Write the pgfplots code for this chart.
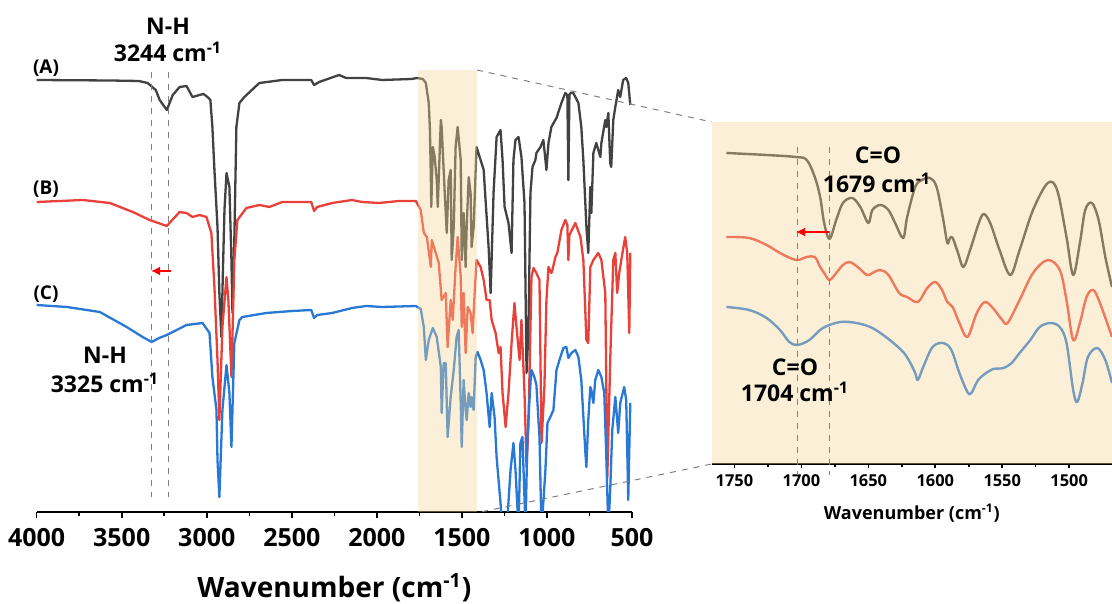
\documentclass[border=0pt]{standalone}
\usepackage{fontspec}
\setmainfont{Open Sans}
\usepackage{pgfplots}
\pgfplotsset{compat=1.18}
\usetikzlibrary{arrows.meta}

\definecolor{specA}{RGB}{66,66,66}
\definecolor{specB}{RGB}{234,64,58}
\definecolor{specC}{RGB}{40,120,214}
\definecolor{zoomfill}{RGB}{245,215,150}

\pgfplotsset{
  ftir/.style={
    scale only axis, anchor=south west,
    x dir=reverse,
    axis x line=bottom, axis y line=none,
    axis line style={-, line width=0.9pt, black},
    tick align=outside,
    tick style={line width=0.8pt, black},
    /pgf/number format/assume math mode=true,
    /pgf/number format/1000 sep={},
    every axis plot/.append style={line width=1.15pt, line join=round},
  }
}

\begin{document}
\begin{tikzpicture}
\path[use as bounding box] (0,0) rectangle (556pt,302pt);

% ---------------- full spectrum ----------------
\begin{axis}[ftir,
  at={(18.35pt,46.15pt)}, width=297.65pt, height=225.85pt,
  xmin=500, xmax=4000, ymin=-511.7, ymax=-60,
  xtick={500,1000,...,4000}, minor x tick num=1,
  major tick length=3.4pt, minor tick length=2pt,
  xticklabel style={font=\fontsize{12.5}{14}\selectfont\bfseries, yshift=-1.5pt},
  xlabel={Wavenumber (cm\textsuperscript{-1})},
  xlabel style={font=\fontsize{14}{16}\selectfont\bfseries,
    at={(axis description cs:0.5,0)}, anchor=center, yshift=-38pt},
]
% (A)
\addplot[specA] coordinates {
(4000,-80) (3570,-80.5) (3400,-81) (3348,-83) (3300,-90) (3277,-100) (3235,-110)
(3200,-95) (3160,-87) (3119,-86) (3084,-97) (3043,-95) (3019,-94) (2996,-97)
(2979,-100) (2967,-127) (2955,-170) (2937,-227) (2926,-293) (2914,-337) (2905,-270)
(2896,-210) (2884,-173) (2867,-187) (2855,-260) (2849,-313) (2838,-240) (2826,-127)
(2808,-103) (2779,-97) (2691,-83) (2556,-80) (2386,-80) (2369,-85) (2339,-82)
(2222,-75) (2181,-78) (2064,-78) (1970,-80) (1794,-79) (1765,-78) (1730,-79)
(1712,-83) (1695,-103) (1688,-130) (1683,-175) (1680,-207) (1671,-147) (1660,-157)
(1648,-180) (1642,-207) (1624,-120) (1619,-127) (1601,-193) (1589,-233) (1578,-180)
(1566,-170) (1560,-260) (1548,-227) (1537,-147) (1525,-127) (1507,-160) (1501,-260)
(1490,-213) (1478,-267) (1472,-227) (1460,-177) (1449,-193) (1443,-247) (1431,-227)
(1419,-170) (1414,-147) (1390,-160) (1372,-170) (1361,-200) (1343,-247) (1331,-293)
(1314,-193) (1296,-137) (1273,-130) (1261,-160) (1249,-207) (1226,-223) (1208,-253)
(1197,-160) (1185,-140) (1167,-137) (1150,-157) (1132,-203) (1120,-373) (1109,-333)
(1097,-193) (1085,-167) (1068,-160) (1062,-153) (1038,-147) (1021,-140) (1003,-170)
(991,-143) (974,-127) (944,-118) (915,-103) (892,-93) (880,-95) (874,-180) (868,-95)
(862,-93) (845,-93) (815,-103) (798,-127) (786,-160) (768,-227) (757,-253) (745,-187)
(739,-213) (727,-153) (710,-143) (686,-157) (680,-143) (657,-120) (651,-127)
(639,-113) (628,-163) (622,-167) (610,-120) (598,-107) (581,-90) (569,-97) (552,-80)
(534,-78) (522,-83) (510,-105)
};
% (B)
\addplot[specB] coordinates {
(4000,-202) (3729,-200) (3570,-203) (3435,-212) (3336,-220) (3235,-226) (3160,-212)
(3119,-213) (3084,-217) (3043,-215) (3002,-217) (2973,-233) (2955,-287) (2937,-360)
(2926,-420) (2908,-327) (2884,-277) (2873,-300) (2855,-377) (2838,-260) (2820,-220)
(2767,-208) (2691,-205) (2632,-207) (2556,-202) (2386,-202) (2369,-211) (2351,-207)
(2263,-203) (2146,-200) (2087,-202) (1988,-203) (1870,-201) (1771,-201) (1742,-210)
(1724,-233) (1706,-237) (1683,-267) (1677,-240) (1654,-253) (1636,-263) (1619,-300)
(1595,-293) (1584,-347) (1566,-300) (1554,-320) (1537,-267) (1525,-237) (1507,-277)
(1501,-327) (1490,-293) (1478,-353) (1466,-307) (1449,-313) (1437,-333) (1425,-293)
(1414,-260) (1390,-267) (1372,-280) (1355,-300) (1337,-300) (1325,-320) (1302,-333)
(1284,-353) (1273,-347) (1261,-393) (1243,-427) (1226,-393) (1208,-343) (1191,-303)
(1179,-327) (1161,-360) (1150,-320) (1132,-393) (1120,-467) (1109,-427) (1091,-277)
(1079,-268) (1062,-273) (1044,-280) (1032,-443) (1015,-387) (1003,-300) (991,-267)
(974,-273) (968,-270) (950,-257) (939,-253) (915,-230) (892,-220) (880,-225)
(874,-260) (868,-235) (862,-233) (833,-223) (803,-237) (786,-260) (768,-340)
(757,-343) (745,-267) (727,-260) (698,-253) (680,-260) (657,-293) (645,-477)
(628,-360) (610,-260) (598,-253) (587,-293) (575,-273) (563,-260) (540,-237)
(528,-253) (516,-333) (510,-253)
};
% (C)
\addplot[specC] coordinates {
(4000,-305) (3822,-307) (3629,-312) (3471,-327) (3377,-337) (3324,-342) (3280,-338)
(3235,-335) (3119,-325) (3025,-323) (2996,-330) (2984,-333) (2967,-377) (2943,-410)
(2937,-460) (2926,-497) (2908,-410) (2884,-365) (2867,-393) (2855,-447) (2838,-343)
(2808,-320) (2791,-317) (2650,-313) (2498,-311) (2386,-310) (2369,-318) (2351,-315)
(2263,-313) (2146,-308) (2064,-306) (1970,-307) (1771,-306) (1742,-309) (1724,-327)
(1712,-360) (1695,-340) (1671,-328) (1648,-337) (1624,-367) (1619,-413) (1607,-363)
(1595,-363) (1584,-437) (1566,-397) (1548,-370) (1531,-337) (1519,-330) (1507,-403)
(1501,-447) (1490,-380) (1478,-410) (1472,-420) (1460,-393) (1449,-407) (1443,-397)
(1431,-410) (1419,-357) (1408,-352) (1390,-360) (1372,-370) (1355,-393) (1337,-427)
(1325,-393) (1308,-417) (1296,-457) (1273,-503) (1261,-530) (1237,-530) (1214,-470)
(1197,-443) (1185,-470) (1167,-530) (1156,-443) (1144,-437) (1126,-530) (1115,-437)
(1097,-383) (1091,-370) (1074,-377) (1062,-385) (1044,-437) (1032,-530) (1009,-470)
(997,-423) (980,-417) (962,-410) (944,-370) (921,-357) (903,-348) (886,-347)
(874,-358) (856,-353) (833,-350) (815,-357) (798,-380) (774,-453) (768,-467)
(757,-420) (745,-387) (739,-390) (727,-403) (716,-380) (698,-370) (680,-377)
(663,-393) (651,-457) (639,-530) (628,-490) (616,-430) (598,-397) (581,-433)
(569,-403) (546,-387) (534,-400) (522,-500) (510,-403)
};
\fill[zoomfill, fill opacity=0.38] (axis cs:1760,-511.7) rectangle (axis cs:1410,-70);
\end{axis}

% ---------------- magnified C=O region ----------------
\begin{axis}[ftir,
  at={(355.85pt,70pt)}, width=200.15pt, height=171pt,
  xmin=1468, xmax=1767, ymin=-464, ymax=-122, clip=false,
  xtick={1500,1550,...,1750}, minor x tick num=1,
  major tick length=2pt, minor tick length=1.3pt,
  xticklabel style={font=\fontsize{8.2}{9}\selectfont\bfseries},
  xlabel={Wavenumber (cm\textsuperscript{-1})},
  xlabel style={font=\fontsize{9}{10}\selectfont\bfseries,
    at={(axis description cs:0.5,0)}, anchor=center, yshift=-24.5pt},
  every axis plot/.append style={smooth, tension=0.55, line width=1.2pt},
]
\addplot[specA] coordinates {
(1756,-153) (1726,-155) (1704,-157) (1696,-160) (1690,-177) (1686,-197) (1683,-223)
(1679,-239) (1674,-220) (1669,-203) (1662,-198) (1656,-207) (1650,-223) (1647,-210)
(1641,-205) (1635,-210) (1630,-223) (1624,-238) (1621,-217) (1615,-187) (1610,-180)
(1604,-178) (1599,-187) (1594,-220) (1591,-243) (1589,-238) (1587,-238) (1583,-253)
(1579,-267) (1574,-250) (1568,-225) (1564,-214) (1559,-223) (1552,-250) (1544,-275)
(1537,-250) (1527,-210) (1516,-183) (1509,-190) (1502,-237) (1497,-275) (1492,-243)
(1488,-210) (1483,-203) (1478,-220) (1473,-257) (1468,-287)
};
\addplot[specB] coordinates {
(1756,-237) (1739,-238) (1726,-245) (1716,-253) (1704,-260) (1696,-257) (1690,-257)
(1686,-267) (1683,-273) (1679,-280) (1674,-273) (1669,-265) (1664,-262) (1658,-267)
(1651,-275) (1647,-273) (1641,-270) (1635,-275) (1627,-293) (1621,-297) (1613,-302)
(1606,-288) (1600,-282) (1595,-290) (1591,-302) (1587,-307) (1582,-323) (1576,-337)
(1569,-313) (1563,-302) (1557,-308) (1550,-320) (1546,-323) (1537,-300) (1527,-273)
(1516,-260) (1507,-270) (1502,-300) (1497,-340) (1492,-323) (1487,-297) (1482,-290)
(1477,-303) (1468,-337)
};
\addplot[specC] coordinates {
(1756,-307) (1739,-310) (1726,-318) (1716,-330) (1709,-342) (1703,-345) (1694,-340)
(1684,-328) (1671,-322) (1659,-323) (1647,-328) (1634,-340) (1624,-352) (1619,-362)
(1615,-373) (1613,-380) (1609,-367) (1602,-347) (1594,-343) (1588,-350) (1582,-373)
(1576,-392) (1573,-393) (1568,-380) (1561,-372) (1557,-369) (1549,-368) (1543,-363)
(1537,-353) (1529,-340) (1522,-327) (1514,-323) (1507,-327) (1502,-343) (1497,-390)
(1494,-402) (1490,-383) (1486,-357) (1479,-348) (1473,-360) (1468,-383)
};
\fill[zoomfill, fill opacity=0.38] (rel axis cs:0,0) rectangle (rel axis cs:1,1);
\end{axis}

% ---------------- annotations (pixel grid of the figure) ----------------
\begin{scope}[shift={(0pt,302pt)}, x=0.5pt, y=-0.5pt]
  \draw[gray, dashed, line width=0.5pt] (477,70) -- (711.7,122);
  \draw[gray, dashed, line width=0.5pt] (482,511.7) -- (711.7,464);
  \draw[gray, dashed, line width=0.45pt] (151,72) -- (151,497);
  \draw[gray, dashed, line width=0.45pt] (168,72) -- (168,497);
  \draw[gray, dashed, line width=0.45pt] (797,147) -- (797,475);
  \draw[gray, dashed, line width=0.45pt] (829.5,147) -- (829.5,475);
  \draw[red, line width=1.4pt, -{Latex[length=4.5pt,width=4.5pt]}] (171,271) -- (151,271);
  \draw[red, line width=1.4pt, -{Latex[length=4.5pt,width=4.5pt]}] (829,232) -- (796,232);
  \begin{scope}[font=\fontsize{11.5}{13}\selectfont\bfseries]
    \node at (168,26) {N-H};
    \node at (168,52) {3244 cm\textsuperscript{-1}};
    \node at (105,355) {N-H};
    \node at (105,383) {3325 cm\textsuperscript{-1}};
    \node at (878,155) {C=O};
    \node at (877,183) {1679 cm\textsuperscript{-1}};
    \node at (795,367) {C=O};
    \node at (795,392) {1704 cm\textsuperscript{-1}};
  \end{scope}
  \begin{scope}[font=\fontsize{9.5}{11}\selectfont\bfseries]
    \node at (46,68) {(A)};
    \node at (46,189) {(B)};
    \node at (46,294) {(C)};
  \end{scope}
\end{scope}
\end{tikzpicture}
\end{document}
